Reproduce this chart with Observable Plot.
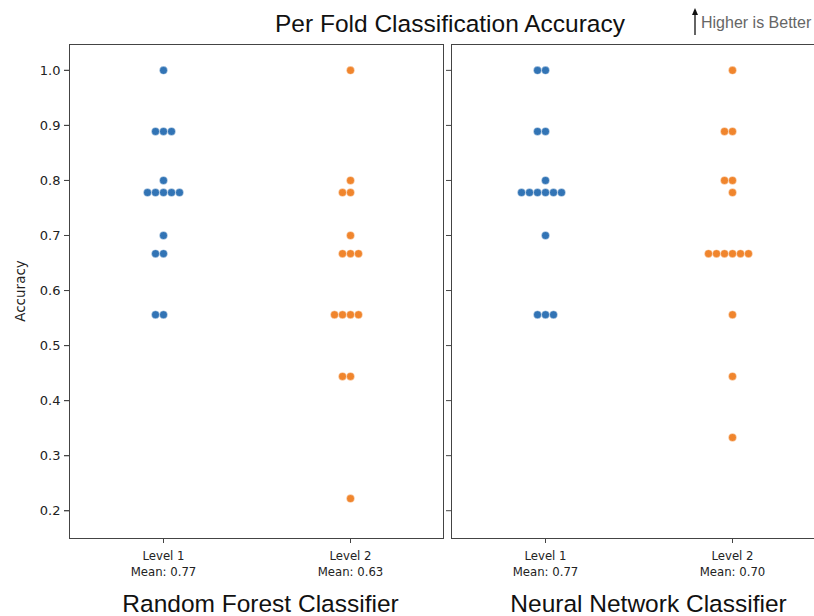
<!DOCTYPE html>
<html>
<head>
<meta charset="utf-8">
<script src="https://cdn.jsdelivr.net/npm/d3@7"></script>
<script src="https://cdn.jsdelivr.net/npm/@observablehq/plot@0.6"></script>
<style>
  html, body { margin: 0; padding: 0; background: #fff; overflow: hidden; }
  #wrap { position: relative; width: 814px; height: 616px; overflow: hidden; }
  #chart { position: absolute; left: 0; top: 0; width: 830px; }
  #chart svg { max-width: none !important; }
  #title { position: absolute; top: 10px; left: 450px; transform: translateX(-50%); white-space: nowrap;
           font-family: "Liberation Sans", Arial, sans-serif; font-size: 24.5px; color: #111; }
  #hib { position: absolute; top: 14px; left: 701px; white-space: nowrap;
         font-family: "Liberation Sans", Arial, sans-serif; font-size: 16px; color: #666; }
  #arrow { position: absolute; left: 690px; top: 5px; }
  #ylabel { position: absolute; left: 20px; top: 291px; transform: translate(-50%, -50%) rotate(-90deg);
            white-space: nowrap; font-family: "DejaVu Sans", sans-serif; font-size: 13.5px; color: #222; }
</style>
</head>
<body>
<div id="wrap">
  <div id="chart"></div>
  <div id="title">Per Fold Classification Accuracy</div>
  <svg id="arrow" width="12" height="32"><line x1="5" y1="8" x2="5" y2="30" stroke="#111" stroke-width="1.3"/><path d="M5,3 L8,10 L2,10 Z" fill="#111"/></svg>
  <div id="hib">Higher is Better</div>
  <div id="ylabel">Accuracy</div>
</div>
<script>
const classifiers = ["Random Forest Classifier", "Neural Network Classifier"];
const levels = ["Level 1", "Level 2"];
const yTicks = [0.2, 0.3, 0.4, 0.5, 0.6, 0.7, 0.8, 0.9, 1.0];

// per-fold accuracies (15 folds each)
const rfLevel1 = [1.0, 0.889, 0.889, 0.889, 0.8, 0.778, 0.778, 0.778, 0.778, 0.778, 0.7, 0.667, 0.667, 0.556, 0.556];
const rfLevel2 = [1.0, 0.8, 0.778, 0.778, 0.7, 0.667, 0.667, 0.667, 0.556, 0.556, 0.556, 0.556, 0.444, 0.444, 0.222];
const nnLevel1 = [1.0, 1.0, 0.889, 0.889, 0.8, 0.778, 0.778, 0.778, 0.778, 0.778, 0.778, 0.7, 0.556, 0.556, 0.556];
const nnLevel2 = [1.0, 0.889, 0.889, 0.8, 0.8, 0.778, 0.667, 0.667, 0.667, 0.667, 0.667, 0.667, 0.556, 0.444, 0.333];

const groups = [
  {clf: classifiers[0], level: levels[0], values: rfLevel1},
  {clf: classifiers[0], level: levels[1], values: rfLevel2},
  {clf: classifiers[1], level: levels[0], values: nnLevel1},
  {clf: classifiers[1], level: levels[1], values: nnLevel2}
];

// swarm slot: within equal values, slots go 0, -1, +1, -2, +2, ...
const points = [];
for (const g of groups) {
  const counts = new Map();
  for (const v of g.values) {
    const i = counts.get(v) || 0;
    counts.set(v, i + 1);
    const slot = i === 0 ? 0 : (i % 2 === 1 ? -Math.ceil(i / 2) : i / 2);
    points.push({clf: g.clf, level: g.level, acc: v, slot});
  }
}
const slots = Array.from(new Set(points.map(d => d.slot))).sort((a, b) => a - b);
const labels = groups.map(g => ({clf: g.clf, level: g.level,
  text: `${g.level}\nMean: ${d3.mean(g.values).toFixed(2)}`}));
const facetTitles = classifiers.map(c => ({clf: c, text: c}));

const colors = ["#3274b5", "#f0852d"];
const SPACING = 8;
const tickFont = "'DejaVu Sans Condensed', 'DejaVu Sans', sans-serif";
const yTickFont = "'DejaVu Sans', sans-serif";
const titleFont = "'Liberation Sans', Arial, sans-serif";

const plot = Plot.plot({
  width: 826,
  height: 616,
  marginLeft: 69,
  marginRight: 1,
  marginTop: 44,
  marginBottom: 78,
  style: {background: "#fff", color: "#222", maxWidth: "none"},
  fx: {domain: classifiers, paddingInner: 0.021, paddingOuter: 0, label: null, axis: null},
  x: {type: "point", domain: levels, padding: 0.5, label: null},
  y: {domain: [0.1495, 1.047], label: null},
  color: {domain: levels, range: colors},
  marks: [
    Plot.frame({stroke: "#444", strokeWidth: 1}),
    Plot.axisY({ticks: yTicks, tickSize: 5, fill: "none", stroke: "#444", label: null, facetAnchor: null}),
    Plot.axisY({ticks: yTicks, tickSize: 5, tickPadding: 4, tickFormat: ".1f", stroke: "#444", fill: "#222",
      fontSize: 13, fontFamily: yTickFont, label: null}),
    Plot.axisX({tickSize: 5, fill: "none", stroke: "#444", label: null}),
    Plot.text(facetTitles.slice(0, 1), {fx: "clf", text: "text", frameAnchor: "bottom", lineAnchor: "top",
      dy: 56, dx: 4, fontSize: 24.5, fontFamily: titleFont, fill: "#111"}),
    Plot.text(facetTitles.slice(1), {fx: "clf", text: "text", frameAnchor: "bottom", lineAnchor: "top",
      dy: 56, dx: 10, fontSize: 24.5, fontFamily: titleFont, fill: "#111"}),
    Plot.text(labels, {fx: "clf", x: "level", text: "text", frameAnchor: "bottom", lineAnchor: "top",
      dy: 9, fontSize: 13, lineHeight: 1.3, fontFamily: tickFont, fill: "#222"}),
    ...slots.map(k => Plot.dot(points.filter(d => d.slot === k), {
      fx: "clf", x: "level", y: "acc", fill: "level", r: 4, dx: k * SPACING, stroke: "#fff", strokeWidth: 0.4
    }))
  ]
});
document.getElementById("chart").appendChild(plot);
</script>
</body>
</html>
